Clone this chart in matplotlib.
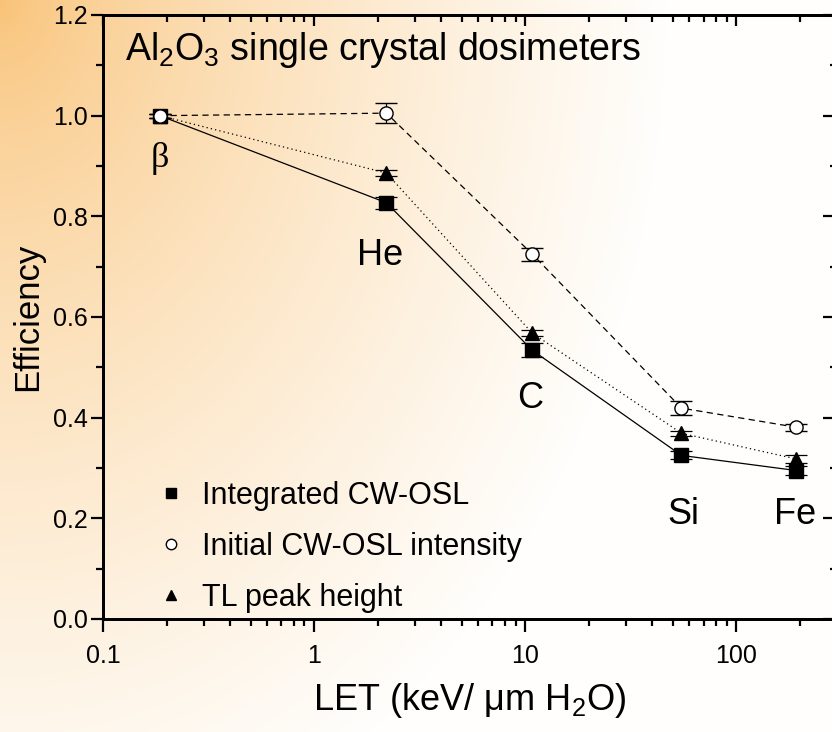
import numpy as np
import matplotlib
matplotlib.use("Agg")
import matplotlib.pyplot as plt
from matplotlib.lines import Line2D

plt.rcParams["font.family"] = ["Liberation Sans", "DejaVu Sans"]
plt.rcParams["mathtext.fontset"] = "custom"
plt.rcParams["mathtext.rm"] = "Liberation Sans"
plt.rcParams["mathtext.it"] = "Liberation Sans"
plt.rcParams["mathtext.bf"] = "Liberation Sans"

# LET of each ion (keV/um H2O)
ions = ["β", "He", "C", "Si", "Fe"]
let = [0.186, 2.2, 10.8, 55, 192]

# Efficiencies relative to beta
integrated = [1.0, 0.827, 0.534, 0.325, 0.295]
integrated_err = [0.004, 0.012, 0.014, 0.008, 0.008]
initial = [1.0, 1.005, 0.725, 0.419, 0.381]
initial_err = [0.004, 0.020, 0.013, 0.014, 0.007]
tl_peak = [1.0, 0.886, 0.568, 0.369, 0.318]
tl_peak_err = [0.004, 0.006, 0.006, 0.005, 0.008]

# label anchors (data coords)
label_x = [0.186, 2.06, 10.6, 56, 190]
label_y = [0.915, 0.723, 0.439, 0.207, 0.207]

fig = plt.figure(figsize=(8.32, 7.32), dpi=100)

# orange -> white background
bg = fig.add_axes([0, 0, 1, 1], zorder=-10)
W, H = 832, 732
xx, yy = np.meshgrid(np.arange(W) / W, np.arange(H) / H)
d = np.sqrt((xx * 1.5) ** 2 + (yy * 1.0) ** 2)
t = np.clip(d / 1.2, 0, 1) ** 0.7
c0 = np.array([249, 194, 118]) / 255
c1 = np.array([255, 254, 252]) / 255
img = c0[None, None, :] + (c1 - c0)[None, None, :] * t[..., None]
bg.imshow(img, aspect="auto", extent=(0, 1, 0, 1), origin="upper")
bg.axis("off")

ax = fig.add_axes([103 / 832, 113 / 732, 734 / 832, 604 / 732])
ax.set_facecolor("none")
ax.set_xscale("log")
ax.set_xlim(0.1, 300)
ax.set_ylim(0, 1.2)

eb = dict(capsize=8, elinewidth=0.9, capthick=0.9, ecolor="k")
ax.errorbar(let, integrated, yerr=integrated_err, fmt="s-", color="k",
            ms=10, lw=0.9, **eb, zorder=3)
ax.errorbar(let, tl_peak, yerr=tl_peak_err, fmt="^", ls=(0, (1, 2.5)), color="k",
            ms=10, lw=0.9, **eb, zorder=3)
ax.errorbar(let, initial, yerr=initial_err, fmt="o", ls=(0, (5, 3.5)), color="k",
            mfc="white", mec="k", mew=1.0, ms=9.5, lw=0.9, **eb, zorder=3)

for name, lx, ly in zip(ions, label_x, label_y):
    fam = ["Liberation Serif"] if name == "β" else None
    ax.text(lx, ly, name, fontsize=26, ha="center", va="center", family=fam)

ax.text(0.03, 0.942, "Al$_2$O$_3$ single crystal dosimeters", transform=ax.transAxes,
        fontsize=27, ha="left", va="center")

ax.set_yticks(np.arange(0, 1.21, 0.2))
ax.set_yticks(np.arange(0.1, 1.2, 0.2), minor=True)
ax.set_yticklabels([f"{v:.1f}" for v in np.arange(0, 1.21, 0.2)])
ax.set_xticks([0.1, 1, 10, 100])
ax.set_xticklabels(["0.1", "1", "10", "100"])
ax.tick_params(axis="both", which="major", labelsize=18, width=1.6, length=9,
               direction="out", top=False, right=False)
ax.tick_params(axis="both", which="minor", width=1.6, length=5,
               direction="out", top=False, right=False)
ax.tick_params(axis="x", which="major", pad=9)
ax.tick_params(axis="y", which="major", pad=2)
for s in ax.spines.values():
    s.set_linewidth(2)

# top / right ticks point inward
axt = ax.twiny()
axt.set_xscale("log")
axt.set_xlim(ax.get_xlim())
axt.set_xticks([0.1, 1, 10, 100])
axt.tick_params(axis="x", which="both", direction="in", labeltop=False, width=1.6)
axt.tick_params(axis="x", which="major", length=8)
axt.tick_params(axis="x", which="minor", length=5)
axr = ax.twinx()
axr.set_ylim(ax.get_ylim())
axr.set_yticks(np.arange(0, 1.21, 0.2))
axr.set_yticks(np.arange(0.1, 1.2, 0.2), minor=True)
axr.tick_params(axis="y", which="both", direction="in", labelright=False, width=1.6)
axr.tick_params(axis="y", which="major", length=10)
axr.tick_params(axis="y", which="minor", length=5)
for a in (axt, axr):
    for s in a.spines.values():
        s.set_linewidth(2)

ax.set_xlabel("LET (keV/ μm H$_2$O)", fontsize=26, labelpad=9)
ax.set_ylabel("Efficiency", fontsize=25, labelpad=6)

handles = [
    Line2D([], [], marker="s", color="k", ls="none", ms=7.5),
    Line2D([], [], marker="o", color="k", mfc="white", ls="none", ms=7.5, mew=1),
    Line2D([], [], marker="^", color="k", ls="none", ms=7.5),
]
ax.legend(handles, ["Integrated CW-OSL", "Initial CW-OSL intensity", "TL peak height"],
          loc="lower left", bbox_to_anchor=(0.035, -0.035), frameon=False, fontsize=22,
          handletextpad=0.5, labelspacing=0.68, handlelength=1.0)

fig.savefig("out.png", dpi=100)
